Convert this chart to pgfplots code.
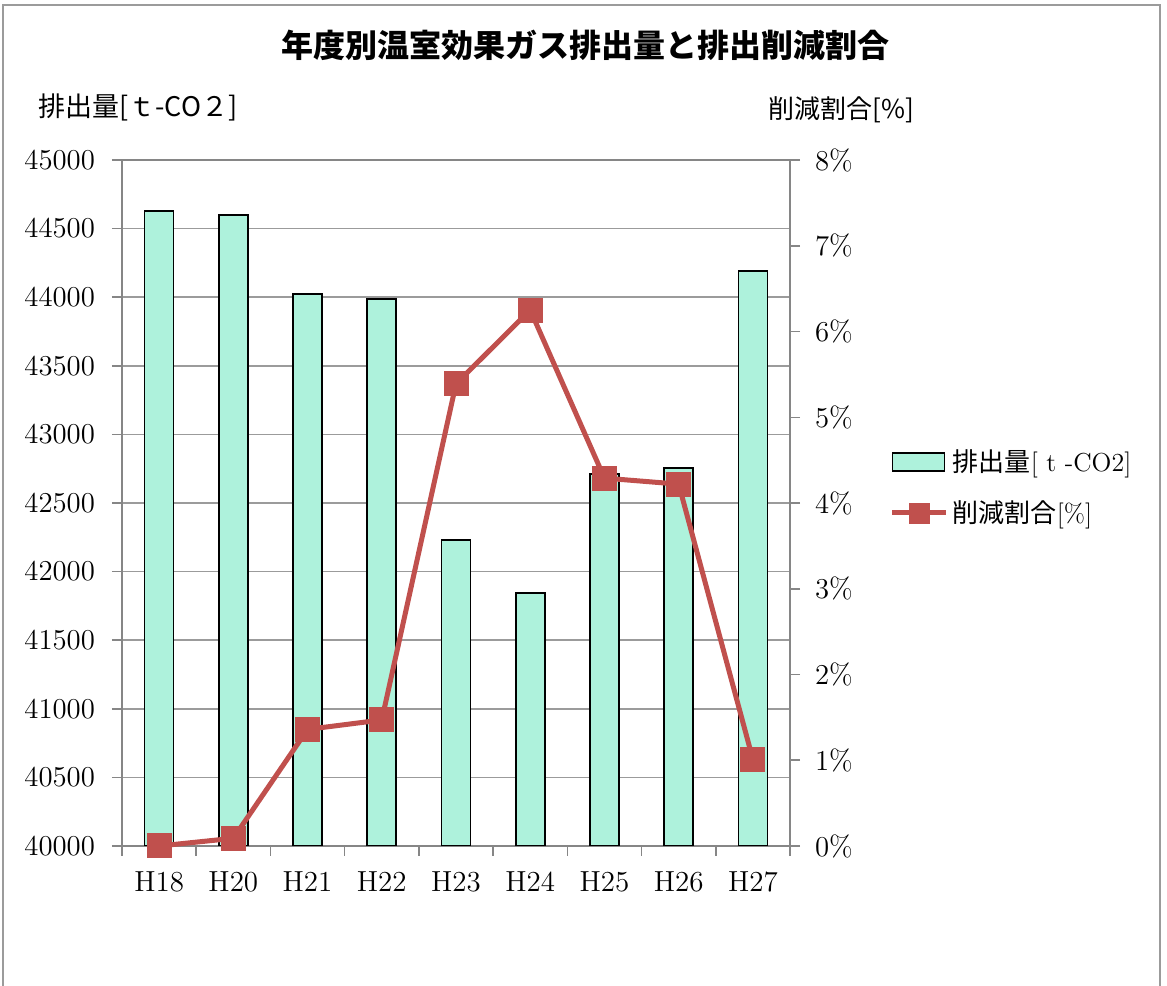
\documentclass[border=0pt]{standalone}
\usepackage{pgfplots}
\pgfplotsset{compat=1.18}
\usepackage{fontspec}
\newfontfamily\jp{Noto Sans CJK JP}
\definecolor{barfill}{RGB}{174,242,220}
\definecolor{linered}{RGB}{192,80,77}
\definecolor{axgray}{RGB}{134,134,134}
\definecolor{gridgray}{RGB}{155,155,155}
\begin{document}
\begin{tikzpicture}
\path[use as bounding box] (0,0) rectangle (583.5pt,492.5pt);
\draw[gridgray, line width=0.75pt] (1.5pt,-5pt) -- (1.5pt,490pt) -- (580pt,490pt) -- (580pt,-5pt);
\node[anchor=center] at (292.5pt,470pt) {\jp\bfseries\fontsize{16}{18}\selectfont 年度別温室効果ガス排出量と排出削減割合};
\node[anchor=west, inner sep=0pt] at (19pt,439pt) {\jp\fontsize{13.5}{15}\selectfont 排出量[ｔ-CO２]};
\node[anchor=west, inner sep=0pt] at (384pt,437.5pt) {\jp\fontsize{13}{15}\selectfont 削減割合[\%]};
\begin{axis}[
  at={(61pt,69.5pt)}, anchor=south west, scale only axis,
  width=334pt, height=343pt,
  xmin=-0.5, xmax=8.5, ymin=40000, ymax=45000,
  xtick={-0.5,0.5,...,8.5}, x tick label as interval,
  xticklabels={H18,H20,H21,H22,H23,H24,H25,H26,H27},
  ytick={40000,40500,...,45000},
  xtick pos=bottom, ytick pos=left,
  ymajorgrids, grid style={gridgray, line width=0.8pt},
  tick align=outside, major tick length=5pt,
  tick style={axgray, line width=0.75pt},
  axis line style={axgray, line width=0.8pt},
  ticklabel style={font=\fontsize{14.5}{16}\selectfont},
  xticklabel style={yshift=-4.5pt},
  scaled y ticks=false,
  yticklabel style={xshift=-5pt, /pgf/number format/.cd, 1000 sep={}},
]
\addplot[ybar, bar width=14.5pt, fill=barfill, draw=black, line width=0.85pt] coordinates {
 (0,44628) (1,44599) (2,44023) (3,43987) (4,42230) (5,41844) (6,42711) (7,42755) (8,44191)};
\end{axis}
\begin{axis}[
  at={(61pt,69.5pt)}, anchor=south west, scale only axis,
  width=334pt, height=343pt,
  xmin=-0.5, xmax=8.5, ymin=0, ymax=8,
  hide x axis, clip=false,
  ytick={0,1,...,8},
  yticklabel={\pgfmathprintnumber{\tick}\%},
  ytick pos=right, yticklabel pos=right,
  tick align=outside, major tick length=5pt,
  tick style={axgray, line width=0.75pt},
  axis line style={axgray, line width=0.8pt},
  ticklabel style={font=\fontsize{14.5}{16}\selectfont},
  yticklabel style={xshift=4pt},
  legend style={at={(1.14,0.59)}, anchor=north west, draw=none, fill=none,
    font=\fontsize{13}{15}\selectfont, row sep=9pt, nodes={inner sep=2pt}},
  legend cell align=left,
]
\addlegendimage{legend image code/.code={\draw[fill=barfill, draw=black, line width=0.85pt] (0pt,-4.5pt) rectangle (26pt,4.5pt);}}
\addlegendentry{{\jp 排出量}[ t -CO2]}
\addlegendimage{legend image code/.code={\draw[linered, line width=2.5pt] (0pt,0pt) -- (27pt,0pt); \fill[linered] (8.5pt,-5pt) rectangle (18.5pt,5pt);}}
\addlegendentry{{\jp 削減割合}[\%]}
\addplot[linered, line width=2.5pt, mark=square*, mark size=5pt, mark options={solid, fill=linered}, forget plot] coordinates {
 (0,0) (1,0.09) (2,1.36) (3,1.47) (4,5.39) (5,6.25) (6,4.29) (7,4.22) (8,1.01)};
\end{axis}
\end{tikzpicture}
\end{document}
